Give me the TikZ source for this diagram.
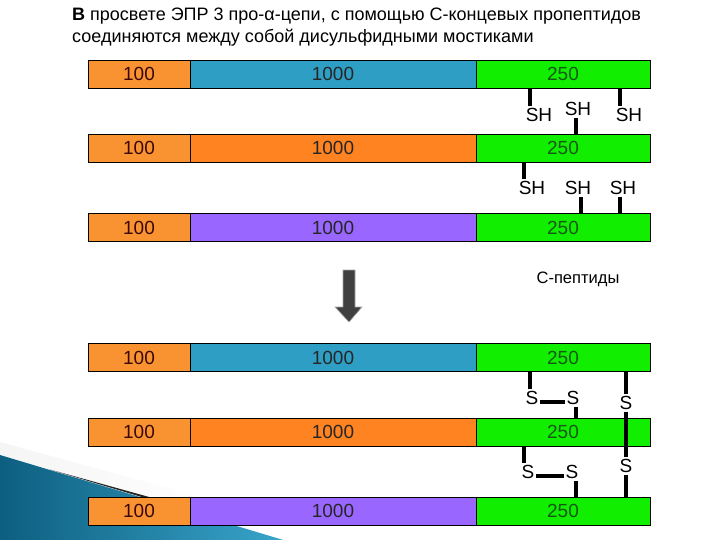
\documentclass[tikz,border=0pt]{standalone}
\usepackage{fontspec}
\setmainfont{Liberation Sans}
\definecolor{segorange}{HTML}{F99332}
\definecolor{segblue}{HTML}{2E9EC4}
\definecolor{segorange2}{HTML}{FF8320}
\definecolor{segpurple}{HTML}{9966FF}
\definecolor{seggreen}{HTML}{11EE00}
\definecolor{txtbrown}{HTML}{3A0808}
\definecolor{txtgreen}{HTML}{145A14}
\definecolor{swdark}{HTML}{0D5F80}
\definecolor{swlight}{HTML}{3AA6CC}
\tikzset{
  seg/.style={draw=black, line width=0.9pt, inner sep=0pt, outer sep=0pt, minimum height=28pt, anchor=west, font=\fontsize{19}{19}\selectfont},
  sega/.style={seg, fill=segorange, minimum width=102pt, text=txtbrown},
  segb/.style={seg, minimum width=286pt, text=black!85},
  segc/.style={seg, fill=seggreen, minimum width=174pt, text=txtgreen},
  lab/.style={inner sep=0pt, outer sep=2pt, font=\fontsize{19}{19}\selectfont},
  stub/.style={line width=4pt, black},
}
\begin{document}
\begin{tikzpicture}[x=1pt,y=-1pt]
\useasboundingbox (0,0) rectangle (720,540);
\fill[white] (0,0) rectangle (720,540);
% decorative swoosh bottom-left
\shade[left color=black!4, right color=white] (0,442) -- (230,505) -- (230,540) -- (0,540) -- cycle;
\shade[left color=swdark, right color=swlight] (0,455) -- (290,542) -- (0,542) -- cycle;
\fill[black!85] (50,469.5) -- (160,500) -- (160,502.5) -- cycle;
% title
\node[anchor=north west, align=left, inner sep=0pt, font=\fontsize{18}{22}\selectfont] (title) at (72,8)
  {\textbf{В} просвете ЭПР 3 про-α-цепи, с помощью С-концевых пропептидов\\соединяются между собой дисульфидными мостиками};
% rows
\node[sega] (a1) at (88,74) {100};
\node[segb, fill=segblue] (b1) at (190,74) {1000};
\node[segc] (c1) at (476,74) {250};
\node[sega] (a2) at (88,148) {100};
\node[segb, fill=segorange2] (b2) at (190,148) {1000};
\node[segc] (c2) at (476,148) {250};
\node[sega] (a3) at (88,227.5) {100};
\node[segb, fill=segpurple] (b3) at (190,227.5) {1000};
\node[segc] (c3) at (476,227.5) {250};
\node[sega] (a4) at (88,357.5) {100};
\node[segb, fill=segblue] (b4) at (190,357.5) {1000};
\node[segc] (c4) at (476,357.5) {250};
\node[sega] (a5) at (88,432) {100};
\node[segb, fill=segorange2] (b5) at (190,432) {1000};
\node[segc] (c5) at (476,432) {250};
\node[sega] (a6) at (88,511) {100};
\node[segb, fill=segpurple] (b6) at (190,511) {1000};
\node[segc] (c6) at (476,511) {250};
% SH groups
\node[lab] (sh11) at (539,115) {SH};
\node[lab] (sh12) at (578,109) {SH};
\node[lab] (sh13) at (629,115) {SH};
\draw[stub] ([xshift=-9pt]sh11.north) -- ([xshift=-9pt]sh11.north |- c1.south);
\draw[stub] ([xshift=-9pt]sh13.north) -- ([xshift=-9pt]sh13.north |- c1.south);
\draw[stub] ([xshift=-2pt]sh12.south) -- ([xshift=-2pt]sh12.south |- c2.north);
\node[lab] (sh21) at (532,188) {SH};
\node[lab] (sh22) at (578,188) {SH};
\node[lab] (sh23) at (623,188) {SH};
\draw[stub] ([xshift=-8pt]sh21.north) -- ([xshift=-8pt]sh21.north |- c2.south);
\draw[stub] ([xshift=3pt]sh22.south) -- ([xshift=3pt]sh22.south |- c3.north);
\draw[stub] ([xshift=-3pt]sh23.south) -- ([xshift=-3pt]sh23.south |- c3.north);
% arrow and label
\fill[black!75, draw=black!35, line width=0.6pt] (343,270) -- (355,270) -- (355,307) -- (362,307) -- (349,322) -- (335,307) -- (343,307) -- cycle;
\node[inner sep=0pt, font=\fontsize{16.5}{16.5}\selectfont] (cpep) at (578,279) {С-пептиды};
% S-S bridges
\node[lab] (s41) at (532,398) {S};
\node[lab] (s42) at (573,398) {S};
\node[lab] (s43) at (626,403) {S};
\draw[stub] ([xshift=-2pt]s41.north) -- ([xshift=-2pt]s41.north |- c4.south);
\draw[stub] ([yshift=-4pt]s41.east) -- ([yshift=-4pt]s42.west);
\draw[stub] ([xshift=3pt]s42.south) -- ([xshift=3pt]s42.south |- c5.north);
\node[lab] (s51) at (528,472) {S};
\node[lab] (s52) at (572,472) {S};
\node[lab] (s53) at (626,466) {S};
\draw[stub] ([xshift=-4pt]s51.north) -- ([xshift=-4pt]s51.north |- c5.south);
\draw[stub] ([yshift=-4pt]s51.east) -- ([yshift=-4pt]s52.west);
\draw[stub] ([xshift=4pt]s52.south) -- ([xshift=4pt]s52.south |- c6.north);
\draw[stub] (s43.north) -- (s43.north |- c4.south);
\draw[stub] (s43.south) -- (s53.north);
\draw[stub] (s53.south) -- (s53.south |- c6.north);
\end{tikzpicture}
\end{document}
